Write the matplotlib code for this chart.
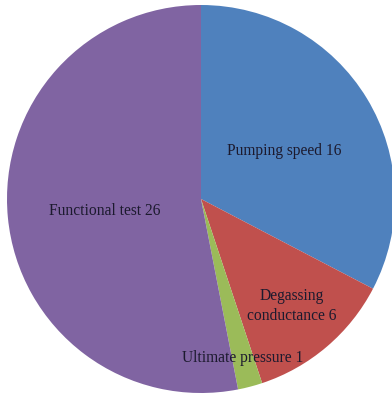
import matplotlib
matplotlib.use("Agg")
import matplotlib.pyplot as plt

categories = ["Pumping speed", "Degassing\nconductance", "Ultimate pressure", "Functional test"]
counts = [16, 6, 1, 26]
colors = ["#4F81BD", "#C0504D", "#9BBB59", "#8064A2"]
# label anchor points (data units, pie radius = 1)
label_xy = [(0.428, 0.247), (0.469, -0.552), (0.216, -0.82), (-0.495, -0.062)]

W, H = 392, 396
fig = plt.figure(figsize=(W / 100, H / 100), dpi=100)
cx, cy, r = 201, H - 199, 194
ax = fig.add_axes([(cx - r) / W, (cy - r) / H, 2 * r / W, 2 * r / H])

ax.pie(counts, colors=colors, startangle=90, counterclock=False, radius=1,
       wedgeprops=dict(linewidth=0))
ax.set_xlim(-1, 1)
ax.set_ylim(-1, 1)
ax.set_aspect("equal")
ax.axis("off")

for name, n, (x, y) in zip(categories, counts, label_xy):
    ax.text(x, y, f"{name} {n}", ha="center", va="center", fontsize=11.2,
            family="Liberation Serif", color="#1c1a2e", linespacing=1.3)

fig.savefig("out.png", dpi=100)
